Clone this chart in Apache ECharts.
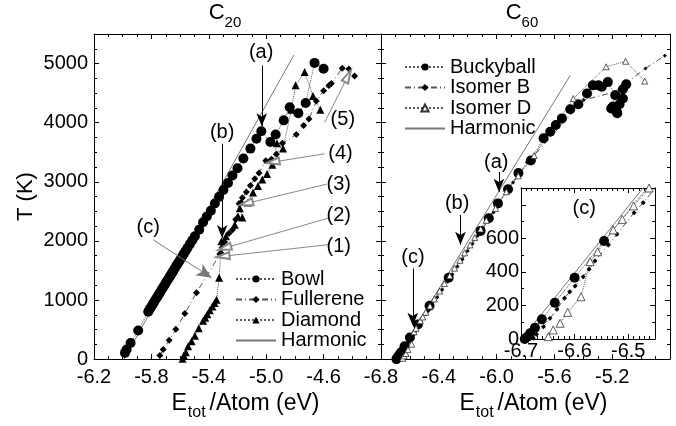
<!DOCTYPE html>
<html>
<head>
<meta charset="utf-8">
<script src="https://cdn.jsdelivr.net/npm/echarts@6/dist/echarts.min.js"></script>
<style>
  html, body { margin: 0; padding: 0; background: #fff; }
  #chart { width: 676px; height: 426px; }
</style>
</head>
<body>
<div id="chart"></div>
<script>
// ---- C20 panel data (E per atom in eV, T in K) ----
const c20Bowl = [
  [-5.984, 105], [-5.973, 161], [-5.945, 272], [-5.892, 483], [-5.822, 800],
  [-5.812, 845], [-5.801, 885], [-5.79, 930], [-5.781, 965], [-5.77, 1012],
  [-5.759, 1050], [-5.749, 1093], [-5.74, 1128], [-5.729, 1172], [-5.718, 1215],
  [-5.709, 1248], [-5.699, 1292], [-5.688, 1333], [-5.679, 1368], [-5.668, 1412],
  [-5.657, 1455], [-5.648, 1488], [-5.637, 1535], [-5.626, 1578], [-5.617, 1612],
  [-5.606, 1655], [-5.596, 1694], [-5.585, 1738], [-5.574, 1782], [-5.562, 1830],
  [-5.548, 1885], [-5.532, 1945], [-5.515, 2010], [-5.497, 2078], [-5.467, 2189],
  [-5.44, 2316], [-5.414, 2411], [-5.386, 2511], [-5.358, 2633], [-5.328, 2745],
  [-5.298, 2861], [-5.266, 2978], [-5.235, 3106], [-5.2, 3228], [-5.159, 3394],
  [-5.11, 3561], [-5.068, 3728], [-5.034, 3856], [-4.971, 3672], [-4.934, 3800],
  [-4.878, 4039], [-4.836, 4261], [-4.776, 4161], [-4.725, 4333], [-4.663, 5011],
  [-4.6, 4911]
];
const c20Fullerene = [
  [-5.741, 62], [-5.718, 161], [-5.676, 317], [-5.63, 505], [-5.567, 772],
  [-5.486, 1122], [-5.323, 1772], [-5.316, 1795], [-5.307, 1883], [-5.29, 1983],
  [-5.259, 2130], [-5.235, 2189], [-5.212, 2360], [-5.189, 2633], [-5.166, 2728],
  [-5.138, 2828], [-5.11, 2939], [-5.08, 3050], [-5.05, 3150], [-5.003, 3356],
  [-4.964, 3383], [-4.929, 3467], [-4.887, 3650], [-4.79, 3800], [-4.739, 3950],
  [-4.702, 4061], [-4.651, 4367], [-4.6, 4539], [-4.563, 4628], [-4.546, 4661],
  [-4.47, 4922], [-4.424, 4906], [-4.384, 4789]
];
const c20Diamond = [
  [-5.583, 5], [-5.574, 62], [-5.56, 117], [-5.544, 217], [-5.52, 300],
  [-5.497, 394], [-5.47, 520], [-5.44, 650], [-5.425, 700], [-5.41, 760],
  [-5.393, 828], [-5.375, 890], [-5.36, 950], [-5.346, 1005], [-5.328, 1376],
  [-5.312, 1994], [-5.28, 2078], [-5.219, 2272], [-5.196, 2411], [-5.166, 2394],
  [-5.184, 2550], [-5.173, 2661], [-5.127, 2650], [-5.092, 2817], [-5.057, 2928],
  [-5.027, 3039], [-4.994, 3133], [-4.957, 3289], [-4.925, 3650], [-4.883, 3561],
  [-4.825, 4217], [-4.795, 4633], [-4.732, 4856], [-4.674, 4450], [-4.623, 4217]
];
const c20Harmonic = [[-5.99, 0], [-4.807, 5144]];

// ---- C60 panel data ----
const c60Bucky = [
  [-6.693, 0], [-6.688, 14], [-6.683, 34], [-6.674, 67], [-6.661, 117],
  [-6.637, 216], [-6.6, 365], [-6.545, 584], [-6.464, 904], [-6.332, 1376],
  [-6.111, 2169], [-6.054, 2383], [-5.991, 2634], [-5.921, 2874], [-5.849, 3149],
  [-5.763, 3361], [-5.675, 3736], [-5.629, 3847], [-5.59, 3960], [-5.548, 4072],
  [-5.49, 4228], [-5.434, 4312], [-5.374, 4492], [-5.334, 4631], [-5.295, 4631],
  [-5.272, 4609], [-5.23, 4686], [-5.179, 4463], [-5.207, 4240], [-5.195, 4273],
  [-5.172, 4200], [-5.165, 4161], [-5.149, 4312], [-5.126, 4408], [-5.126, 4564],
  [-5.103, 4648]
];
const c60IsomerB = [
  [-6.677, 4], [-6.671, 28], [-6.658, 73], [-6.646, 123], [-6.633, 177],
  [-6.619, 243], [-6.609, 282], [-6.599, 316], [-6.584, 371], [-6.573, 415],
  [-6.562, 465], [-6.537, 560], [-6.521, 624], [-6.489, 753], [-6.472, 812],
  [-6.446, 915], [-6.41, 1048], [-6.376, 1172], [-6.339, 1308], [-6.306, 1432],
  [-6.27, 1566], [-6.236, 1690], [-6.2, 1828], [-6.166, 1950], [-6.13, 2088],
  [-6.094, 2216], [-6.058, 2352], [-6.021, 2486], [-5.98, 2642], [-5.934, 2812],
  [-5.886, 2988], [-5.836, 3168], [-5.79, 3330], [-5.74, 3445], [-5.397, 4384],
  [-5.184, 4518], [-4.97, 4916], [-4.836, 5134]
];
const c60IsomerD = [
  [-6.649, 14], [-6.64, 54], [-6.627, 94], [-6.613, 159], [-6.588, 252],
  [-6.571, 461], [-6.557, 520], [-6.528, 650], [-6.511, 713], [-6.49, 793],
  [-6.461, 900], [-6.431, 1018], [-6.394, 1152], [-6.361, 1278], [-6.324, 1412],
  [-6.291, 1538], [-6.254, 1672], [-6.221, 1798], [-6.184, 1932], [-6.151, 2058],
  [-6.11, 2202], [-6.071, 2348], [-6.007, 2550], [-5.933, 2830], [-5.85, 3100],
  [-5.74, 3445], [-5.469, 4408], [-5.242, 4945], [-5.107, 5039], [-4.975, 4703]
];
const c60Harmonic = [[-6.699, 0], [-5.49, 4800]];

// ---- annotations (data coordinates) ----
const c20ArrowsBlack = [[-5.031, 4966, -5.031, 3940], [-5.307, 3641, -5.307, 2047]];
const c20ArrowsGray = [[-5.787, 2018, -5.381, 1376]];
const c20ArrowsOpen = [
  [-4.57, 1935, -5.301, 1740], [-4.57, 2383, -5.289, 1879], [-4.581, 2958, -5.138, 2634],
  [-4.593, 3473, -4.953, 3334], [-4.593, 4005, -4.431, 4787]
];
const c20Labels = [
  ['(a)', -5.035, 5180], ['(b)', -5.307, 3837], ['(c)', -5.822, 2227],
  ['(1)', -4.494, 1908], ['(2)', -4.494, 2438], ['(3)', -4.494, 2958],
  ['(4)', -4.482, 3473], ['(5)', -4.466, 4049]
];
const c60Arrows = [[-5.984, 3166, -5.984, 2830], [-6.25, 2438, -6.25, 1935], [-6.58, 1532, -6.58, 565]];
const c60Labels = [['(a)', -6.002, 3334], ['(b)', -6.273, 2634], ['(c)', -6.579, 1711]];
const insetArrows = [[-6.582, 739, -6.582, 481]];
const insetLabels = [['(c)', -6.582, 779]];

const FONT = '"Liberation Sans", Arial, Helvetica, sans-serif';

const chart = echarts.init(document.getElementById('chart'));

function arrowLines(list, headSymbol, headSize) {
  return list.map(a => [
    { coord: [a[0], a[1]], symbol: 'none' },
    { coord: [a[2], a[3]], symbol: headSymbol, symbolSize: headSize }
  ]);
}

function markLines(groups) {
  let data = [];
  groups.forEach(g => {
    g.lines.forEach(l => {
      l[0].lineStyle = { color: g.color, width: 1, type: 'solid' };
      l[0].itemStyle = { color: g.headColor };
      data.push(l);
    });
  });
  return {
    silent: true,
    animation: false,
    label: { show: false },
    emphasis: { disabled: true },
    data: data
  };
}

// text labels such as (a), (b), (1) ... centred on a data point
function labelSeries(list, g, z) {
  return {
    type: 'scatter',
    xAxisIndex: g, yAxisIndex: g,
    symbolSize: 2,
    itemStyle: { color: 'rgba(0,0,0,0)' },
    silent: true,
    z: z,
    label: {
      show: true, position: [1, 1], align: 'center', verticalAlign: 'middle',
      formatter: '{b}', color: '#000', opacity: 1, textBorderWidth: 0,
      fontSize: 20, fontFamily: FONT
    },
    data: list.map(l => ({ name: l[0], value: [l[1], l[2]] }))
  };
}

function pts(name, data, g, symbol, size, item, lineType, z) {
  return {
    type: 'line', name: name,
    xAxisIndex: g, yAxisIndex: g,
    data: data,
    symbol: symbol, symbolSize: size,
    showAllSymbol: true,
    itemStyle: item,
    lineStyle: { color: '#555', width: 1, type: lineType },
    z: z,
    animation: false
  };
}

const black = { color: '#000' };
const openTri = { color: '#fff', borderColor: '#333', borderWidth: 0.8 };
const dashDot = [6, 3, 1, 3];

function harmonic(data, g, z, ml) {
  const s = {
    type: 'line', name: 'Harmonic',
    xAxisIndex: g, yAxisIndex: g,
    data: data, symbol: 'none',
    lineStyle: { color: '#777', width: 1, type: 'solid' },
    itemStyle: { color: '#777' },
    z: z, animation: false
  };
  if (ml) s.markLine = ml;
  return s;
}

const axisCommon = {
  type: 'value',
  axisLine: { show: true, onZero: false, lineStyle: { color: '#000', width: 1 } },
  axisTick: { show: true, inside: true, length: 5, lineStyle: { color: '#000' } },
  minorTick: { show: true, splitNumber: 4, length: 3, lineStyle: { color: '#000' } },
  splitLine: { show: false },
  axisLabel: { color: '#000', fontSize: 20, fontFamily: FONT }
};

function ax(o) {
  const a = JSON.parse(JSON.stringify(axisCommon));
  return Object.assign(a, o, {
    axisLabel: Object.assign(a.axisLabel, o.axisLabel || {}),
    axisTick: Object.assign(a.axisTick, o.axisTick || {}),
    minorTick: Object.assign(a.minorTick, o.minorTick || {})
  });
}

const xName = '{m|E}{s|tot}{m|/Atom (eV)}';
const xNameStyle = {
  padding: [0, 0, 0, 16],
  rich: {
    m: { fontSize: 23, fontFamily: FONT, color: '#000', padding: [0, 0, 6, 0] },
    s: { fontSize: 16, fontFamily: FONT, color: '#000', verticalAlign: 'bottom', padding: [0, 4, 0, 1] }
  }
};
const fmt1 = v => v.toFixed(1);
const fmt0 = v => String(v);

const legendText = { fontSize: 20, fontFamily: FONT, color: '#000', lineHeight: 20 };

const option = {
  backgroundColor: '#fff',
  animation: false,
  grid: [
    { left: 94, top: 34, width: 287, height: 328 },
    { left: 381, top: 34, width: 289, height: 328 },
    { left: 521, top: 188, width: 134, height: 151, show: true, backgroundColor: '#fff', borderWidth: 0, z: 10 }
  ],
  xAxis: [
    ax({ gridIndex: 0, position: 'bottom', min: -6.2, max: -4.2, interval: 0.4,
         axisLabel: { margin: 8, showMaxLabel: false, formatter: fmt1 },
         name: xName, nameLocation: 'middle', nameGap: 21, nameTextStyle: xNameStyle }),
    ax({ gridIndex: 0, position: 'top', min: -6.2, max: -4.2, interval: 0.4, axisLabel: { show: false } }),
    ax({ gridIndex: 1, position: 'bottom', min: -6.8, max: -4.8, interval: 0.4,
         axisLabel: { margin: 8, showMaxLabel: false, formatter: fmt1 },
         name: xName, nameLocation: 'middle', nameGap: 21, nameTextStyle: xNameStyle }),
    ax({ gridIndex: 1, position: 'top', min: -6.8, max: -4.8, interval: 0.4, axisLabel: { show: false } }),
    ax({ gridIndex: 2, position: 'bottom', min: -6.7, max: -6.45, interval: 0.1, z: 12,
         axisLabel: { margin: 2, showMaxLabel: false, formatter: fmt1 },
         minorTick: { splitNumber: 10, length: 3 } }),
    ax({ gridIndex: 2, position: 'top', min: -6.7, max: -6.45, interval: 0.1, z: 12,
         axisLabel: { show: false }, minorTick: { splitNumber: 10, length: 3 } })
  ],
  yAxis: [
    ax({ gridIndex: 0, position: 'left', min: 0, max: 5500, interval: 1000,
         axisLabel: { margin: 6, showMaxLabel: false, formatter: fmt0 },
         name: 'T (K)', nameLocation: 'middle', nameGap: 57,
         nameTextStyle: { fontSize: 22, fontFamily: FONT, color: '#000' } }),
    ax({ gridIndex: 0, position: 'right', min: 0, max: 5500, interval: 1000, axisLabel: { show: false } }),
    ax({ gridIndex: 1, position: 'left', min: 0, max: 5500, interval: 1000, axisLabel: { show: false } }),
    ax({ gridIndex: 1, position: 'right', min: 0, max: 5500, interval: 1000, axisLabel: { show: false } }),
    ax({ gridIndex: 2, position: 'left', min: 0, max: 900, interval: 200, z: 12,
         axisLabel: { margin: 2, formatter: v => (v <= 600 ? String(v) : '') },
         minorTick: { splitNumber: 2, length: 3 } }),
    ax({ gridIndex: 2, position: 'right', min: 0, max: 900, interval: 200, z: 12,
         axisLabel: { show: false }, minorTick: { splitNumber: 2, length: 3 } })
  ],
  legend: [
    {
      data: ['Bowl', 'Fullerene', 'Diamond', { name: 'Harmonic', itemStyle: { opacity: 0 } }],
      orient: 'vertical', left: 230, top: 264, itemWidth: 40, itemHeight: 9, itemGap: 0.5,
      selectedMode: false, textStyle: legendText
    },
    {
      data: ['Buckyball', 'Isomer B', 'Isomer D', { name: 'Harmonic', itemStyle: { opacity: 0 } }],
      orient: 'vertical', left: 399, top: 52, itemWidth: 40, itemHeight: 9, itemGap: 0.5,
      selectedMode: false, textStyle: legendText
    }
  ],
  graphic: [
    { type: 'text', x: 225, y: 2, z: 20, style: { text: '{m|C}{s|20}', textAlign: 'center',
      rich: { m: { fontSize: 22, fontFamily: FONT, fill: '#000', padding: [0, 0, 6, 0] },
              s: { fontSize: 15, fontFamily: FONT, fill: '#000', verticalAlign: 'bottom' } } } },
    { type: 'text', x: 522, y: 2, z: 20, style: { text: '{m|C}{s|60}', textAlign: 'center',
      rich: { m: { fontSize: 22, fontFamily: FONT, fill: '#000', padding: [0, 0, 6, 0] },
              s: { fontSize: 15, fontFamily: FONT, fill: '#000', verticalAlign: 'bottom' } } } }
  ],
  series: [
    pts('Bowl', c20Bowl, 0, 'circle', 10, black, 'dotted', 3),
    pts('Fullerene', c20Fullerene, 0, 'diamond', 7, black, dashDot, 3),
    pts('Diamond', c20Diamond, 0, 'triangle', 8, black, 'dotted', 3),
    harmonic(c20Harmonic, 0, 2, markLines([
      { lines: arrowLines(c20ArrowsBlack, 'arrow', [8, 13]), color: '#000', headColor: '#000' },
      { lines: arrowLines(c20ArrowsGray, 'arrow', [10, 15]), color: '#777', headColor: '#000' },
      { lines: arrowLines(c20ArrowsOpen, 'emptyTriangle', [7, 13]), color: '#888', headColor: '#888' }
    ])),
    labelSeries(c20Labels, 0, 5),

    pts('Buckyball', c60Bucky, 2, 'circle', 10, black, 'dotted', 3),
    pts('Isomer B', c60IsomerB, 2, 'diamond', 4, black, dashDot, 3),
    pts('Isomer D', c60IsomerD, 2, 'triangle', 6, openTri, 'dotted', 3),
    harmonic(c60Harmonic, 2, 2, markLines([
      { lines: arrowLines(c60Arrows, 'arrow', [8, 13]), color: '#000', headColor: '#000' }
    ])),
    labelSeries(c60Labels, 2, 5),

    pts('Buckyball', c60Bucky, 4, 'circle', 10, black, 'dotted', 13),
    pts('Isomer B', c60IsomerB, 4, 'diamond', 5, black, dashDot, 13),
    pts('Isomer D', c60IsomerD, 4, 'triangle', 8, openTri, 'dotted', 13),
    harmonic(c60Harmonic, 4, 12, markLines([
      { lines: arrowLines(insetArrows, 'arrow', [7, 12]), color: '#000', headColor: '#000' }
    ])),
    labelSeries(insetLabels, 4, 14)
  ]
};

chart.setOption(option);
</script>
</body>
</html>
